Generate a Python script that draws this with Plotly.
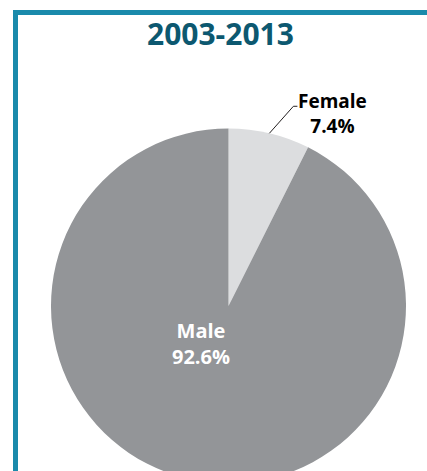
import math
import plotly.graph_objects as go

# ---- data ----
title_text = "2003-2013"
labels = ["Female", "Male"]
values = [7.4, 92.6]
slice_colors = ["#dcdddf", "#939598"]

W, H = 427, 490

def px(x):
    return x / W

def py(y):
    return 1 - y / H

# pie geometry (pixels)
cx, cy, r = 228.5, 306.0, 177.5

fig = go.Figure(
    go.Pie(
        labels=labels,
        values=values,
        sort=False,
        direction="clockwise",
        rotation=0,
        marker=dict(colors=slice_colors, line=dict(width=0)),
        textinfo="none",
        hoverinfo="label+percent",
        showlegend=False,
        domain=dict(x=[px(cx - r), px(cx + r)], y=[py(cy + r), py(cy - r)]),
    )
)

font_family = "Open Sans"

# leader line for Female label from slice mid-angle on the rim
total = sum(values)
mid_frac = values[0] / 2 / total
ang = 2 * math.pi * mid_frac
tipx = cx + r * math.sin(ang)
tipy = cy - r * math.cos(ang)
elbx, elby = tipx + 24, tipy - 27
endx = elbx + 4

shapes = [
    # frame: top and left teal bars
    dict(type="rect", xref="paper", yref="paper", x0=px(13), x1=px(430), y0=py(15), y1=py(10),
         fillcolor="#1a8aab", line=dict(width=0), layer="above"),
    dict(type="rect", xref="paper", yref="paper", x0=px(13), x1=px(18), y0=py(H + 5), y1=py(10),
         fillcolor="#1a8aab", line=dict(width=0), layer="above"),
    dict(type="path", xref="paper", yref="paper",
         path=f"M {px(tipx)} {py(tipy)} L {px(elbx)} {py(elby)} L {px(endx)} {py(elby)}",
         line=dict(color="#231f20", width=1), layer="above"),
]

pct = [f"{v:.1f}%" for v in values]

annotations = [
    dict(text=f"<b>{title_text}</b>", x=px(220), y=py(34), xref="paper", yref="paper",
         xanchor="center", yanchor="middle", showarrow=False,
         font=dict(family=font_family, size=30, color="#0c5870")),
    dict(text=f"<b>{labels[0]}<br>{pct[0]}</b>", x=px(332.5), y=py(113), xref="paper", yref="paper",
         xanchor="center", yanchor="middle", showarrow=False, align="center",
         font=dict(family=font_family, size=19, color="#000000")),
    dict(text=f"<b>{labels[1]}<br>{pct[1]}</b>", x=px(200.5), y=py(343.5), xref="paper", yref="paper",
         xanchor="center", yanchor="middle", showarrow=False, align="center",
         font=dict(family=font_family, size=20, color="#ffffff")),
]

fig.update_layout(
    width=W,
    height=H,
    margin=dict(l=0, r=0, t=0, b=0),
    paper_bgcolor="#ffffff",
    plot_bgcolor="#ffffff",
    shapes=shapes,
    annotations=annotations,
)

fig.write_html(
    "out.html",
    config={"displayModeBar": False},
    post_script="document.body.style.margin='0';document.body.style.overflow='hidden';",
)
